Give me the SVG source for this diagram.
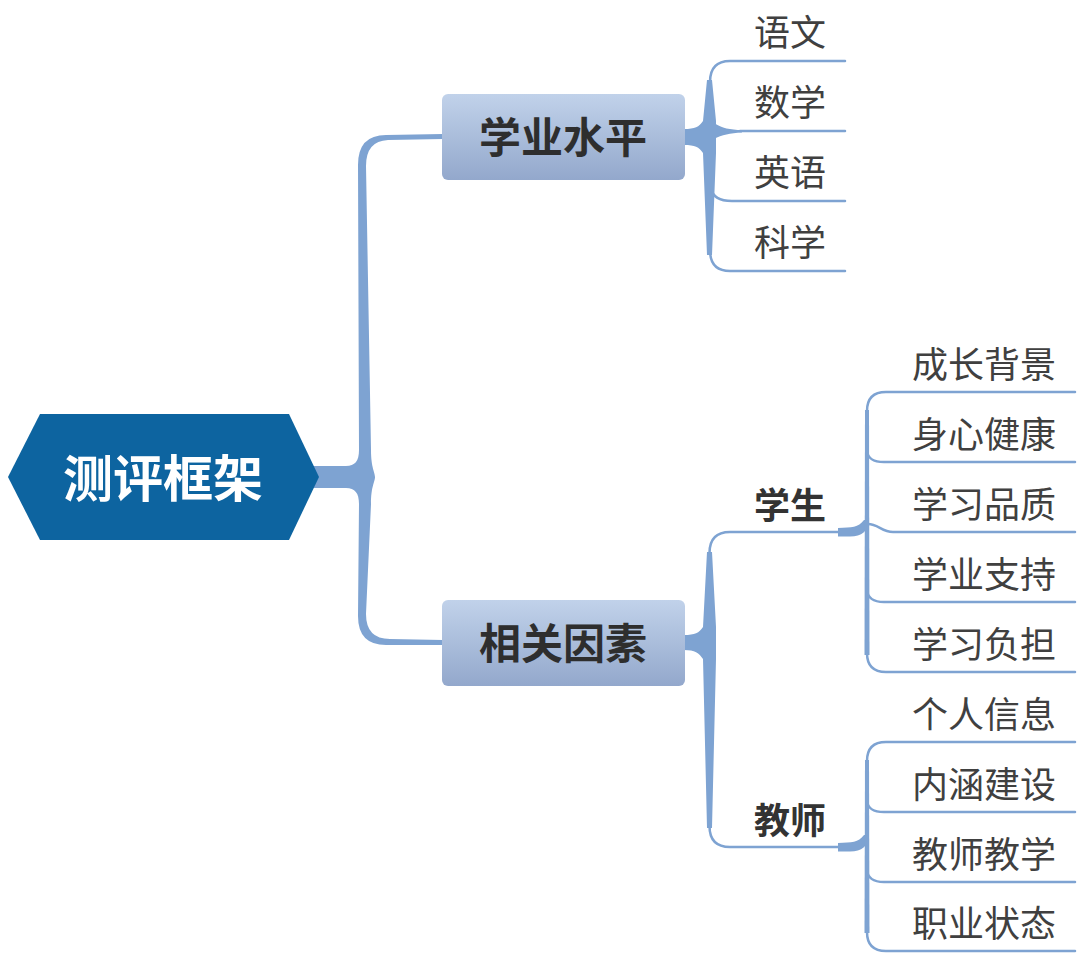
<svg xmlns="http://www.w3.org/2000/svg" width="1080" height="955" viewBox="0 0 1080 955">
<defs>
<linearGradient id="boxg" x1="0" y1="0" x2="0" y2="1">
<stop offset="0" stop-color="#c1d2ea"/>
<stop offset="1" stop-color="#93a8cc"/>
</linearGradient>
<style>
.ln{fill:none;stroke:#7ea3d2;stroke-width:2.5;stroke-linecap:round}
.fl{fill:#7ea3d2}
.t{font-family:"Noto Sans CJK SC","Noto Sans",sans-serif;text-anchor:middle}
.leaf{font-size:36px;fill:#404040}
.mid{font-size:36px;font-weight:700;fill:#333333}
.box{font-size:42px;font-weight:700;fill:#2e2e2e}
.root{font-size:50px;font-weight:700;fill:#ffffff}
</style>
</defs>
<rect width="1080" height="955" fill="#ffffff"/>
<g id="connectors">
<!-- root to level 1 -->
<path class="fl" d="M 300 466 L 346 466 C 355 466 359 461 359 450 L 358 165 Q 358 135 386 135 L 443 134 L 443 139 L 388 140 Q 366 141 366 166 L 371 450 C 371 468 375 472 375 477 C 375 482 371 486 371 504 L 366 614 Q 366 639 390 639 L 443 640 L 443 645 L 386 645 Q 358 645 358 616 L 359 504 C 359 493 355 488 346 488 L 300 488 Z"/>
<!-- 学业水平 children -->
<path class="fl" d="M 684 129 C 695 129 699 127 703 121 L 707 80 L 712 80 L 716 121 L 716 153 L 712 255 L 707 255 L 703 153 C 699 147 695 145 684 145 Z"/>
<path class="fl" d="M 714 123 C 722 128 730 130 742 130 L 742 132.5 C 730 133 722 135 714 139 Z"/>
<path class="ln" d="M 845 61 L 730 61 Q 710 61 710 82"/>
<path class="ln" d="M 845 271 L 730 271 Q 710 271 710 250"/>
<path class="ln" d="M 740 131 L 845 131"/>
<path class="ln" d="M 711 188 Q 713 201 732 201 L 845 201"/>
<!-- 相关因素 children -->
<path class="fl" d="M 684 635 C 695 635 699 633 703 627 L 707 552 L 712 552 L 716 627 L 716 659 L 712 828 L 707 828 L 703 659 C 699 653 695 650 684 650 Z"/>
<path class="ln" d="M 845 532 L 730 532 Q 709.5 532 709.5 553"/>
<path class="ln" d="M 845 847 L 730 847 Q 709.5 847 709.5 826"/>
<!-- 学生 children -->
<path class="fl" d="M 838 528 C 852 527 858 528 864 520 L 869 520 C 868 532 862 536 850 536.5 L 838 536.5 Z"/>
<path class="fl" d="M 865 410 L 869 410 L 869.5 655 L 864.5 655 Z"/>
<path class="ln" d="M 1075 392 L 886 392 Q 867 392 867 411"/>
<path class="ln" d="M 1075 672 L 886 672 Q 867 672 867 653"/>
<path class="ln" d="M 867 451 Q 868 462 884 462 L 1075 462"/>
<path class="ln" d="M 868 524 C 878 524 882 532 893 532 L 1075 532"/>
<path class="ln" d="M 867 590 Q 868 602 884 602 L 1075 602"/>
<!-- 教师 children -->
<path class="fl" d="M 838 843 C 852 842 858 843 864 835 L 869 835 C 868 847 862 851 850 851.5 L 838 851.5 Z"/>
<path class="fl" d="M 865 760 L 869 760 L 869.5 933 L 864.5 933 Z"/>
<path class="ln" d="M 1075 742 L 886 742 Q 867 742 867 761"/>
<path class="ln" d="M 1075 951 L 886 951 Q 867 951 867 932"/>
<path class="ln" d="M 867 801 Q 868 812 884 812 L 1075 812"/>
<path class="ln" d="M 867 870 Q 868 882 884 882 L 1075 882"/>
</g>
<g id="root">
<polygon points="8,477 40,414 289,414 319,477 289,540 40,540" fill="#0d64a0"/>
<text class="t root" x="163" y="497">测评框架</text>
</g>
<g id="n-xueyeshuiping">
<rect x="442" y="94" width="243" height="86" rx="6" fill="url(#boxg)"/>
<text class="t box" x="563" y="153">学业水平</text>
</g>
<g id="n-xiangguanyinsu">
<rect x="442" y="600" width="243" height="86" rx="6" fill="url(#boxg)"/>
<text class="t box" x="563" y="659">相关因素</text>
</g>
<g id="n-yuwen"><text class="t leaf" x="790" y="46">语文</text></g>
<g id="n-shuxue"><text class="t leaf" x="790" y="116">数学</text></g>
<g id="n-yingyu"><text class="t leaf" x="790" y="186">英语</text></g>
<g id="n-kexue"><text class="t leaf" x="790" y="256">科学</text></g>
<g id="n-xuesheng"><text class="t mid" x="790" y="519">学生</text></g>
<g id="n-jiaoshi"><text class="t mid" x="790" y="834">教师</text></g>
<g id="n-s1"><text class="t leaf" x="984" y="378">成长背景</text></g>
<g id="n-s2"><text class="t leaf" x="984" y="448">身心健康</text></g>
<g id="n-s3"><text class="t leaf" x="984" y="518">学习品质</text></g>
<g id="n-s4"><text class="t leaf" x="984" y="588">学业支持</text></g>
<g id="n-s5"><text class="t leaf" x="984" y="658">学习负担</text></g>
<g id="n-t1"><text class="t leaf" x="984" y="728">个人信息</text></g>
<g id="n-t2"><text class="t leaf" x="984" y="798">内涵建设</text></g>
<g id="n-t3"><text class="t leaf" x="984" y="868">教师教学</text></g>
<g id="n-t4"><text class="t leaf" x="984" y="937">职业状态</text></g>
</svg>
